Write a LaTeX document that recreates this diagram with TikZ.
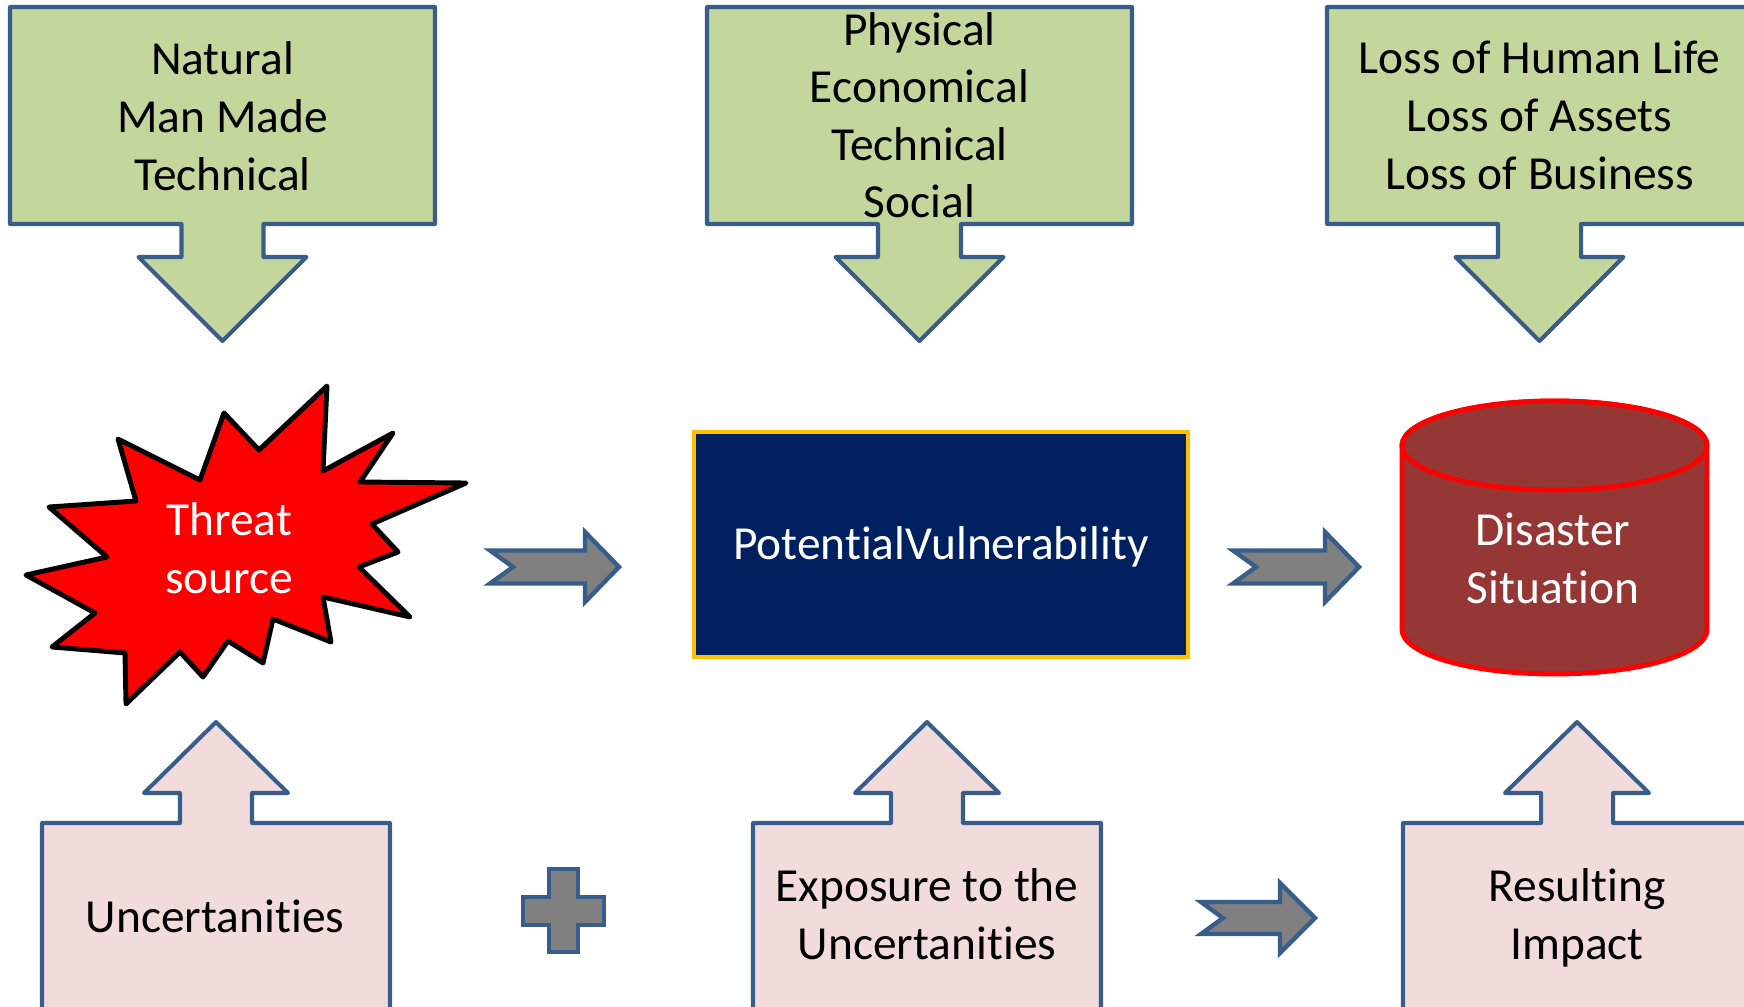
\documentclass[tikz,border=0pt]{standalone}
\usepackage{fontspec}
\setmainfont{Carlito}[Ligatures=NoCommon]

\definecolor{leafgreen}{HTML}{C3D69B}
\definecolor{steelblue}{HTML}{385D8A}
\definecolor{rosepink}{HTML}{F2DCDB}
\definecolor{arrowgray}{HTML}{808080}
\definecolor{deepnavy}{HTML}{002060}
\definecolor{amber}{HTML}{FFC000}
\definecolor{brickred}{HTML}{953735}

\tikzset{
  txt/.style={font=\fontsize{27}{32.8}\selectfont, align=center, inner sep=0pt, text=black},
  wtxt/.style={txt, text=white},
  leafcallout/.style={fill=leafgreen, draw=steelblue, line width=2.3pt, line join=round},
  rosecallout/.style={fill=rosepink, draw=steelblue, line width=2.3pt, line join=round},
  grayarrow/.style={fill=arrowgray, draw=steelblue, line width=2.5pt, line join=miter},
  burst/.style={fill=red, draw=black, line width=2.8pt, line join=round},
  drum/.style={fill=brickred, draw=red, line width=2.8pt},
}

\begin{document}
\begin{tikzpicture}[x=0.02cm, y=-0.02cm]
\useasboundingbox (0,0) rectangle (1744,1007);
\clip (0,0) rectangle (1744,1007);

% ---- top row: green down-pointing callouts ----
\draw[leafcallout] (10,7) -- (435,7) -- (435,224) -- (263.5,224) -- (263.5,257)
  -- (306.5,257) -- (222.5,341) -- (138.5,257) -- (181.5,257) -- (181.5,224)
  -- (10,224) -- cycle;
\node[txt] (kinds) at (222.5,121)
  {\strut Natural\\\strut Man Made\\\strut Technical};

\draw[leafcallout] (707,7) -- (1132,7) -- (1132,224) -- (961,224) -- (961,257)
  -- (1003.5,257) -- (919.5,341) -- (835.5,257) -- (878,257) -- (878,224)
  -- (707,224) -- cycle;
\node[txt] (aspects) at (919.5,120)
  {\strut Physical\\\strut Economical\\\strut Technical\\\strut Social};

\draw[leafcallout] (1327,7) -- (1752,7) -- (1752,224) -- (1581,224) -- (1581,257)
  -- (1623.5,257) -- (1539.5,341) -- (1455.5,257) -- (1498,257) -- (1498,224)
  -- (1327,224) -- cycle;
\node[txt] (losses) at (1539.5,120)
  {\strut Loss of Human Life\\\strut Loss of Assets\\\strut Loss of Business};

% ---- middle row ----
\draw[burst] (118,439) -- (200,480) -- (224,413) -- (259,450) -- (327,386)
  -- (323,471) -- (393,433) -- (360,482) -- (466,483) -- (372,524)
  -- (398,552) -- (359,567) -- (410,617) -- (323,597) -- (331,642)
  -- (273,619) -- (263,663) -- (228,641) -- (203,677) -- (180,652)
  -- (126,704) -- (125,653) -- (52,647) -- (95,613) -- (26,575)
  -- (107,557) -- (49,507) -- (136,501) -- cycle;
\node[wtxt] (threat) at (229,553) {\strut Threat\\\strut source};

\draw[grayarrow] (490,550.5) -- (585,550.5) -- (585,532) -- (619,567) -- (585,602)
  -- (585,583.5) -- (490,583.5) -- (513,567) -- cycle;

\node[wtxt, fill=deepnavy, draw=amber, line width=2.3pt,
      minimum width=9.9cm, minimum height=4.5cm,
      text height=20pt, text depth=2.4pt] (vuln) at (941,544.5)
  {PotentialVulnerability};

\draw[grayarrow] (1233,550.5) -- (1325,550.5) -- (1325,532) -- (1359,567) -- (1325,602)
  -- (1325,583.5) -- (1233,583.5) -- (1256,567) -- cycle;

\draw[drum] (1402,445.5) -- (1402,629.5)
  arc[start angle=180, end angle=0, x radius=152.5, y radius=44.5]
  -- (1707,445.5)
  arc[start angle=0, end angle=-180, x radius=152.5, y radius=44.5] -- cycle;
\draw[drum] (1554.5,445.5) ellipse[x radius=152.5, y radius=44.5];
\node[wtxt] (disaster) at (1553,563) {\strut Disaster\\\strut Situation};

% ---- bottom row: pink up-pointing callouts ----
\draw[rosecallout] (42,1020) -- (42,823) -- (180,823) -- (180,793) -- (144,793)
  -- (216,722) -- (288,793) -- (252,793) -- (252,823) -- (390,823)
  -- (390,1020) -- cycle;
\node[txt] (uncert) at (215,920.5) {\strut Uncertanities};

\draw[grayarrow] (549,869) -- (578,869) -- (578,897) -- (604,897) -- (604,925)
  -- (578,925) -- (578,952) -- (549,952) -- (549,925) -- (523,925)
  -- (523,897) -- (549,897) -- cycle;

\draw[rosecallout] (753,1020) -- (753,823) -- (891,823) -- (891,793) -- (855,793)
  -- (927,722) -- (999,793) -- (963,793) -- (963,823) -- (1101,823)
  -- (1101,1020) -- cycle;
\node[txt] (exposure) at (927,919) {\strut Exposure to the\\\strut Uncertanities};

\draw[grayarrow] (1201,902) -- (1280,902) -- (1280,883) -- (1315,918) -- (1280,953)
  -- (1280,934) -- (1201,934) -- (1223,918) -- cycle;

\draw[rosecallout] (1403,1020) -- (1403,823) -- (1541,823) -- (1541,793) -- (1505,793)
  -- (1577,722) -- (1649,793) -- (1613,793) -- (1613,823) -- (1751,823)
  -- (1751,1020) -- cycle;
\node[txt] (impact) at (1577,919) {\strut Resulting\\\strut Impact};
\end{tikzpicture}
\end{document}
